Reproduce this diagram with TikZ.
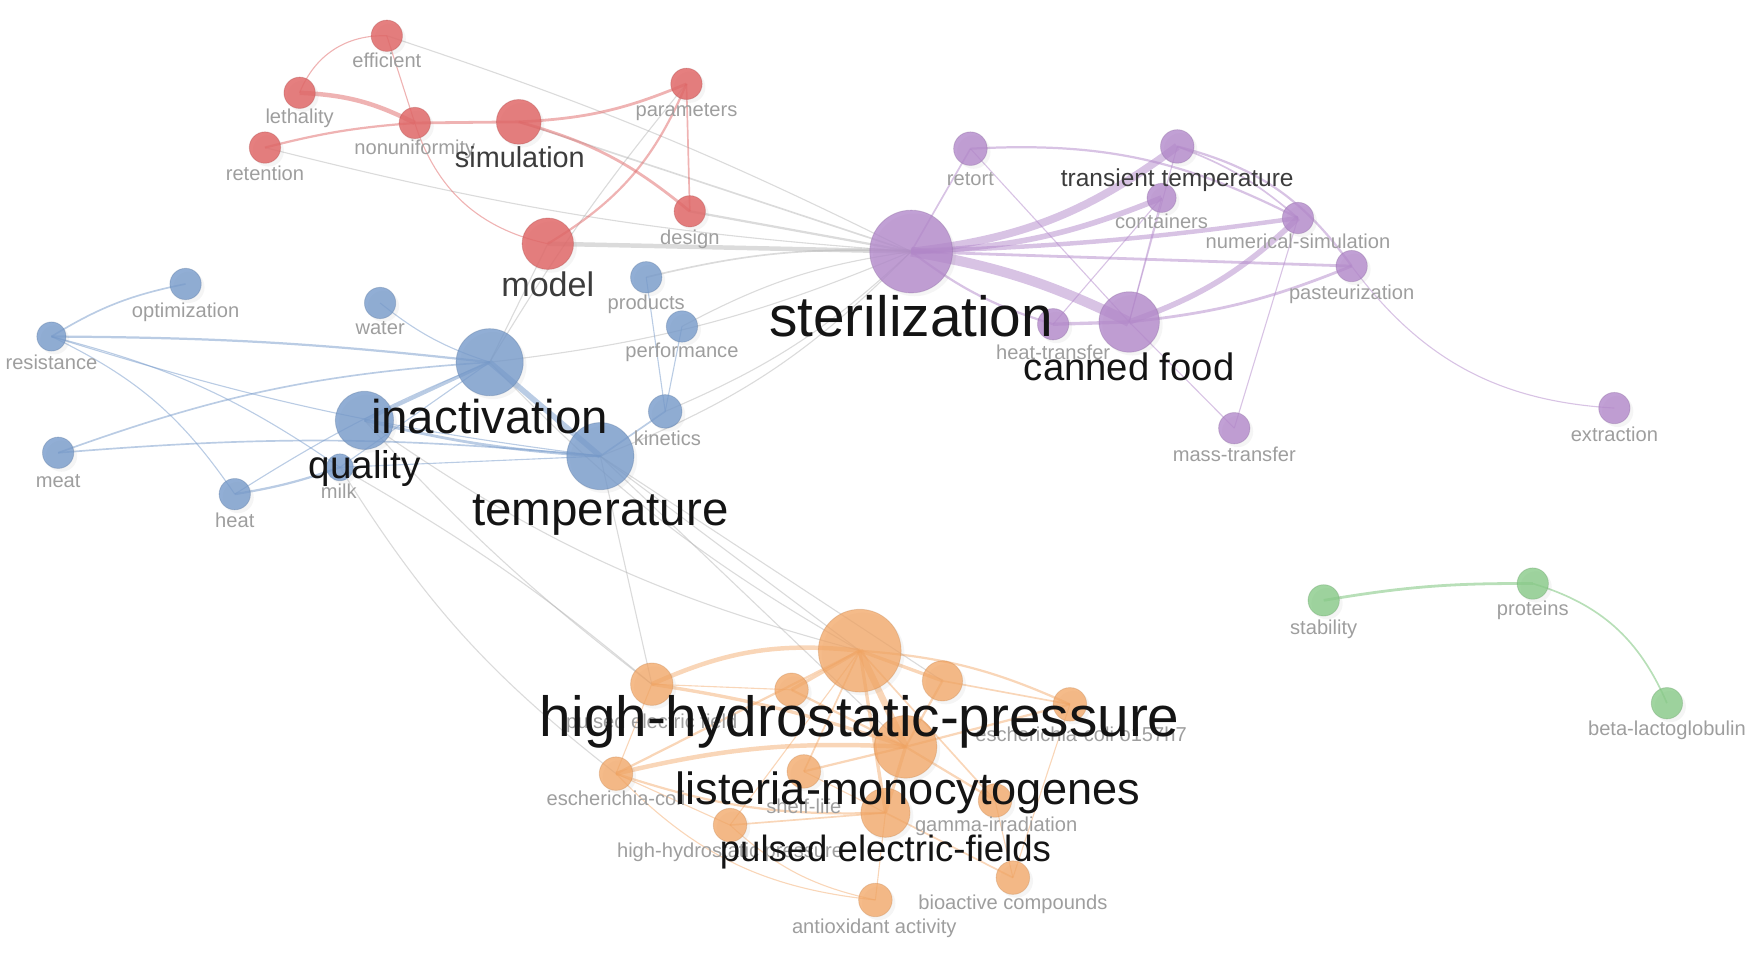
\documentclass[tikz,border=0pt]{standalone}
\usepackage{fontspec}
\setmainfont{Liberation Sans}
\usetikzlibrary{shadows}
\pgfdeclarelayer{edges}
\pgfsetlayers{edges,main}
\definecolor{redc}{RGB}{224,104,104}
\definecolor{purc}{RGB}{178,136,202}
\definecolor{bluc}{RGB}{118,154,202}
\definecolor{orac}{RGB}{242,164,98}
\definecolor{grnc}{RGB}{136,202,136}
\definecolor{lgray}{RGB}{158,158,158}
\definecolor{mgray}{RGB}{60,60,60}
\definecolor{egray}{RGB}{175,175,175}
\begin{document}
\begin{tikzpicture}[x=1pt,y=1pt,
 nd/.style={circle,inner sep=0pt,line width=0.8pt,drop shadow={opacity=0.08,shadow xshift=3pt,shadow yshift=-3pt}},
 rn/.style={nd,fill=redc,draw=redc!80!black,fill opacity=0.85,draw opacity=0.35,minimum size=#1},
 pn/.style={nd,fill=purc,draw=purc!80!black,fill opacity=0.8,draw opacity=0.35,minimum size=#1},
 bn/.style={nd,fill=bluc,draw=bluc!80!black,fill opacity=0.8,draw opacity=0.35,minimum size=#1},
 on/.style={nd,fill=orac,draw=orac!80!black,fill opacity=0.75,draw opacity=0.3,minimum size=#1},
 gn/.style={nd,fill=grnc,draw=grnc!80!black,fill opacity=0.8,draw opacity=0.35,minimum size=#1},
 sl/.style={text=lgray,font=\fontsize{18}{20}\selectfont,inner sep=0pt,anchor=mid,yshift=-3pt},
 bl/.style={text=black!92,inner sep=0pt,anchor=base,font=\fontsize{#1}{#1}\selectfont},
 ml/.style={text=mgray,inner sep=0pt,anchor=base,font=\fontsize{#1}{#1}\selectfont},
 re/.style={draw=redc,draw opacity=0.5,line width=#1},
 pe/.style={draw=purc,draw opacity=0.5,line width=#1},
 be/.style={draw=bluc,draw opacity=0.5,line width=#1},
 oe/.style={draw=orac,draw opacity=0.45,line width=#1},
 gne/.style={draw=grnc,draw opacity=0.6,line width=#1},
 ge/.style={draw=egray,draw opacity=0.45,line width=#1}]
\useasboundingbox (0,0) rectangle (1568,-861);
% ---------- nodes: red
\node[rn=28pt] (eff) at (346,-32) {};
\node[rn=28pt] (leth) at (268,-83) {};
\node[rn=28pt] (nonu) at (371,-110) {};
\node[rn=28pt] (ret) at (237,-132) {};
\node[rn=40pt] (sim) at (464,-109) {};
\node[rn=28pt] (par) at (614,-75) {};
\node[rn=28pt] (des) at (617,-189) {};
\node[rn=46pt] (mod) at (490,-218) {};
% purple
\node[pn=74pt] (ster) at (815,-225) {};
\node[pn=30pt] (rtt) at (868,-133) {};
\node[pn=30pt] (trans) at (1053,-131) {};
\node[pn=26pt] (cont) at (1039,-177) {};
\node[pn=28pt] (num) at (1161,-195) {};
\node[pn=28pt] (past) at (1209,-238) {};
\node[pn=54pt] (can) at (1010,-288) {};
\node[pn=28pt] (htr) at (942,-290) {};
\node[pn=28pt] (mass) at (1104,-383) {};
\node[pn=28pt] (extr) at (1444,-365) {};
% blue
\node[bn=28pt] (opt) at (166,-254) {};
\node[bn=26pt] (res) at (46,-301) {};
\node[bn=28pt] (wat) at (340,-271) {};
\node[bn=60pt] (inac) at (438,-324) {};
\node[bn=28pt] (prod) at (578,-248) {};
\node[bn=28pt] (perf) at (610,-292) {};
\node[bn=30pt] (kin) at (595,-368) {};
\node[bn=52pt] (qual) at (326,-376) {};
\node[bn=60pt] (temp) at (537,-408) {};
\node[bn=28pt] (meat) at (52,-405) {};
\node[bn=28pt] (heat) at (210,-442) {};
\node[bn=24pt] (milk) at (304,-418) {};
% orange
\node[on=74pt] (hhp) at (769,-582) {};
\node[on=38pt] (o1) at (583,-612) {};
\node[on=30pt] (o2) at (708,-617) {};
\node[on=36pt] (o3) at (843,-609) {};
\node[on=30pt] (o4) at (957,-630) {};
\node[on=56pt] (list) at (810,-668) {};
\node[on=30pt] (ecol) at (551,-692) {};
\node[on=30pt] (shelf) at (719,-690) {};
\node[on=30pt] (gam) at (890,-716) {};
\node[on=44pt] (pef) at (792,-727) {};
\node[on=30pt] (hhp2) at (653,-738) {};
\node[on=30pt] (bio) at (906,-785) {};
\node[on=30pt] (anti) at (783,-805) {};
% green
\node[gn=28pt] (stab) at (1184,-537) {};
\node[gn=28pt] (prot) at (1371,-522) {};
\node[gn=28pt] (beta) at (1491,-629) {};
% ---------- edges
\begin{pgfonlayer}{edges}
% gray inter-cluster
\draw[ge=1pt] (eff.center) to[bend left=4] (ster.center);
\draw[ge=1pt] (ret.center) to[bend right=5] (ster.center);
\draw[ge=1.5pt] (sim.center) -- (ster.center);
\draw[ge=2pt] (des.center) -- (ster.center);
\draw[ge=4pt] (mod.center) -- (ster.center);
\draw[ge=1pt] (par.center) to[bend right=4] (inac.center);
\draw[ge=1.5pt] (prod.center) to[bend left=8] (ster.center);
\draw[ge=1pt] (perf.center) to[bend left=10] (ster.center);
\draw[ge=1pt] (inac.center) to[bend right=8] (ster.center);
\draw[ge=1pt] (inac.center) -- (mod.center);
\draw[ge=1pt] (kin.center) to[bend right=10] (ster.center);
\draw[ge=1pt] (temp.center) to[bend right=12] (ster.center);
\draw[ge=1pt] (qual.center) to[bend right=10] (hhp.center);
\draw[ge=1pt] (milk.center) to[bend left=5] (o1.center);
\draw[ge=1pt] (qual.center) to[bend right=5] (o1.center);
\draw[ge=1pt] (temp.center) -- (o1.center);
\draw[ge=1pt] (temp.center) -- (hhp.center);
\draw[ge=1pt] (temp.center) -- (list.center);
\draw[ge=1pt] (temp.center) -- (o3.center);
\draw[ge=1pt] (inac.center) to[bend right=8] (hhp.center);
\draw[ge=1pt] (milk.center) to[bend right=10] (ecol.center);
% red
\draw[re=1pt] (eff.center) to[bend right=35] (leth.center);
\draw[re=1pt] (eff.center) -- (nonu.center);
\draw[re=4pt] (leth.center) to[bend left=12] (nonu.center);
\draw[re=2pt] (ret.center) to[bend left=5] (nonu.center);
\draw[re=2.5pt] (nonu.center) -- (sim.center);
\draw[re=2.5pt] (sim.center) to[bend right=10] (par.center);
\draw[re=2.5pt] (sim.center) to[bend left=12] (des.center);
\draw[re=1.5pt] (par.center) -- (des.center);
\draw[re=2pt] (mod.center) to[bend right=18] (par.center);
\draw[re=1pt] (nonu.center) to[bend right=30] (mod.center);
% blue
\draw[be=1.5pt] (res.center) to[bend left=10] (opt.center);
\draw[be=2pt] (res.center) to[bend left=3] (inac.center);
\draw[be=1pt] (res.center) to[bend right=5] (temp.center);
\draw[be=1pt] (res.center) to[bend left=10] (milk.center);
\draw[be=1pt] (res.center) to[bend left=15] (heat.center);
\draw[be=1.5pt] (meat.center) to[bend left=8] (inac.center);
\draw[be=1.5pt] (meat.center) to[bend left=5] (temp.center);
\draw[be=1pt] (heat.center) to[bend left=5] (inac.center);
\draw[be=2pt] (heat.center) to[bend right=5] (milk.center);
\draw[be=1pt] (wat.center) to[bend right=10] (inac.center);
\draw[be=3pt] (qual.center) -- (inac.center);
\draw[be=2.5pt] (qual.center) to[bend right=5] (temp.center);
\draw[be=5pt] (inac.center) -- (temp.center);
\draw[be=1.5pt] (kin.center) -- (temp.center);
\draw[be=1pt] (prod.center) -- (kin.center);
\draw[be=1pt] (perf.center) -- (kin.center);
\draw[be=1pt] (milk.center) -- (temp.center);
\draw[be=1pt] (milk.center) -- (inac.center);
% purple
\draw[pe=1.5pt] (ster.center) -- (rtt.center);
\draw[pe=7pt] (ster.center) to[bend right=15] (trans.center);
\draw[pe=5pt] (ster.center) to[bend right=10] (cont.center);
\draw[pe=4pt] (ster.center) to[bend right=3] (num.center);
\draw[pe=2.5pt] (ster.center) -- (past.center);
\draw[pe=9pt] (ster.center) to[bend left=8] (can.center);
\draw[pe=2pt] (ster.center) to[bend right=10] (htr.center);
\draw[pe=2pt] (rtt.center) to[bend left=15] (num.center);
\draw[pe=1pt] (rtt.center) -- (can.center);
\draw[pe=2pt] (trans.center) to[bend left=20] (past.center);
\draw[pe=1.5pt] (trans.center) to[bend left=10] (num.center);
\draw[pe=1pt] (trans.center) -- (can.center);
\draw[pe=1pt] (cont.center) -- (can.center);
\draw[pe=5pt] (can.center) to[bend right=12] (num.center);
\draw[pe=2.5pt] (can.center) to[bend right=8] (past.center);
\draw[pe=3pt] (htr.center) -- (can.center);
\draw[pe=1pt] (htr.center) -- (cont.center);
\draw[pe=1pt] (can.center) -- (mass.center);
\draw[pe=1pt] (num.center) -- (mass.center);
\draw[pe=1pt] (past.center) to[bend right=25] (extr.center);
% orange
\draw[oe=4pt] (o1.center) to[bend left=15] (hhp.center);
\draw[oe=3pt] (o2.center) -- (hhp.center);
\draw[oe=3pt] (hhp.center) -- (o3.center);
\draw[oe=2pt] (hhp.center) to[bend left=10] (o4.center);
\draw[oe=6pt] (hhp.center) -- (list.center);
\draw[oe=2pt] (hhp.center) -- (ecol.center);
\draw[oe=1.5pt] (hhp.center) -- (shelf.center);
\draw[oe=1.5pt] (hhp.center) -- (gam.center);
\draw[oe=3pt] (hhp.center) -- (pef.center);
\draw[oe=1pt] (hhp.center) -- (hhp2.center);
\draw[oe=3pt] (o1.center) to[bend left=5] (list.center);
\draw[oe=1pt] (o1.center) -- (ecol.center);
\draw[oe=4pt] (ecol.center) to[bend left=8] (list.center);
\draw[oe=2pt] (ecol.center) to[bend right=10] (pef.center);
\draw[oe=1pt] (ecol.center) -- (hhp2.center);
\draw[oe=2pt] (list.center) -- (o4.center);
\draw[oe=2pt] (list.center) -- (gam.center);
\draw[oe=3pt] (list.center) -- (pef.center);
\draw[oe=2pt] (list.center) -- (shelf.center);
\draw[oe=2pt] (list.center) -- (o3.center);
\draw[oe=2pt] (o2.center) -- (list.center);
\draw[oe=1.5pt] (pef.center) -- (bio.center);
\draw[oe=1pt] (pef.center) -- (anti.center);
\draw[oe=1.5pt] (hhp2.center) -- (pef.center);
\draw[oe=1pt] (hhp2.center) to[bend right=15] (anti.center);
\draw[oe=1pt] (o4.center) -- (bio.center);
\draw[oe=1.5pt] (o3.center) -- (o4.center);
\draw[oe=1pt] (shelf.center) -- (pef.center);
\draw[oe=1pt] (gam.center) -- (bio.center);
\draw[oe=1pt] (o1.center) -- (o2.center);
\draw[oe=1pt] (ecol.center) to[bend right=20] (anti.center);
% green
\draw[gne=2.5pt] (stab.center) to[bend left=5] (prot.center);
\draw[gne=1.5pt] (prot.center) to[bend left=25] (beta.center);
\end{pgfonlayer}
% ---------- labels
\node[sl] (eff-l) at (346,-55) {efficient};
\node[sl] (leth-l) at (268,-105) {lethality};
\node[sl] (nonu-l) at (371,-133) {nonuniformity};
\node[sl] (ret-l) at (237,-156) {retention};
\node[sl] (par-l) at (614,-99) {parameters};
\node[sl] (des-l) at (617,-213) {design};
\node[ml=25.8] (sim-l) at (465,-150) {simulation};
\node[ml=30.5] (mod-l) at (490,-265) {model};
\node[sl] (rtt-l) at (868,-160) {retort};
\node[sl] (cont-l) at (1039,-199) {containers};
\node[sl] (num-l) at (1161,-217) {numerical-simulation};
\node[sl] (past-l) at (1209,-262) {pasteurization};
\node[sl] (htr-l) at (942,-316) {heat-transfer};
\node[sl] (mass-l) at (1104,-407) {mass-transfer};
\node[sl] (extr-l) at (1444,-389) {extraction};
\node[ml=21.9] (trans-l) at (1053,-167) {transient temperature};
\node[bl=50.8] (ster-l) at (815,-301) {sterilization};
\node[bl=34.2] (can-l) at (1010,-340) {canned food};
\node[sl] (opt-l) at (166,-278) {optimization};
\node[sl] (res-l) at (46,-325) {resistance};
\node[sl] (wat-l) at (340,-294) {water};
\node[sl] (prod-l) at (578,-271) {products};
\node[sl] (perf-l) at (610,-314) {performance};
\node[sl] (kin-l) at (597,-393) {kinetics};
\node[sl] (meat-l) at (52,-430) {meat};
\node[sl] (heat-l) at (210,-466) {heat};
\node[sl] (milk-l) at (303,-440) {milk};
\node[bl=42.4] (inac-l) at (438,-388) {inactivation};
\node[bl=34.6] (qual-l) at (326,-428) {quality};
\node[bl=42.5] (temp-l) at (537,-470) {temperature};
\node[sl] (o1-l) at (583,-646) {pulsed electric field};
\node[sl] (o4-l) at (967,-658) {escherichia-coli o157h7};
\node[sl] (ecol-l) at (551,-715) {escherichia-coli};
\node[sl] (shelf-l) at (719,-722) {shelf-life};
\node[sl] (gam-l) at (891,-738) {gamma-irradiation};
\node[sl] (hhp2-l) at (653,-761) {high-hydrostatic pressure};
\node[sl] (bio-l) at (906,-808) {bioactive compounds};
\node[sl] (anti-l) at (782,-829) {antioxidant activity};
\node[bl=50.7] (hhp-l) at (769,-659) {high-hydrostatic-pressure};
\node[bl=40.4] (list-l) at (812,-720) {listeria-monocytogenes};
\node[bl=32.7] (pef-l) at (792,-771) {pulsed electric-fields};
\node[sl] (stab-l) at (1184,-562) {stability};
\node[sl] (prot-l) at (1371,-545) {proteins};
\node[sl] (beta-l) at (1491,-652) {beta-lactoglobulin};
\end{tikzpicture}
\end{document}
